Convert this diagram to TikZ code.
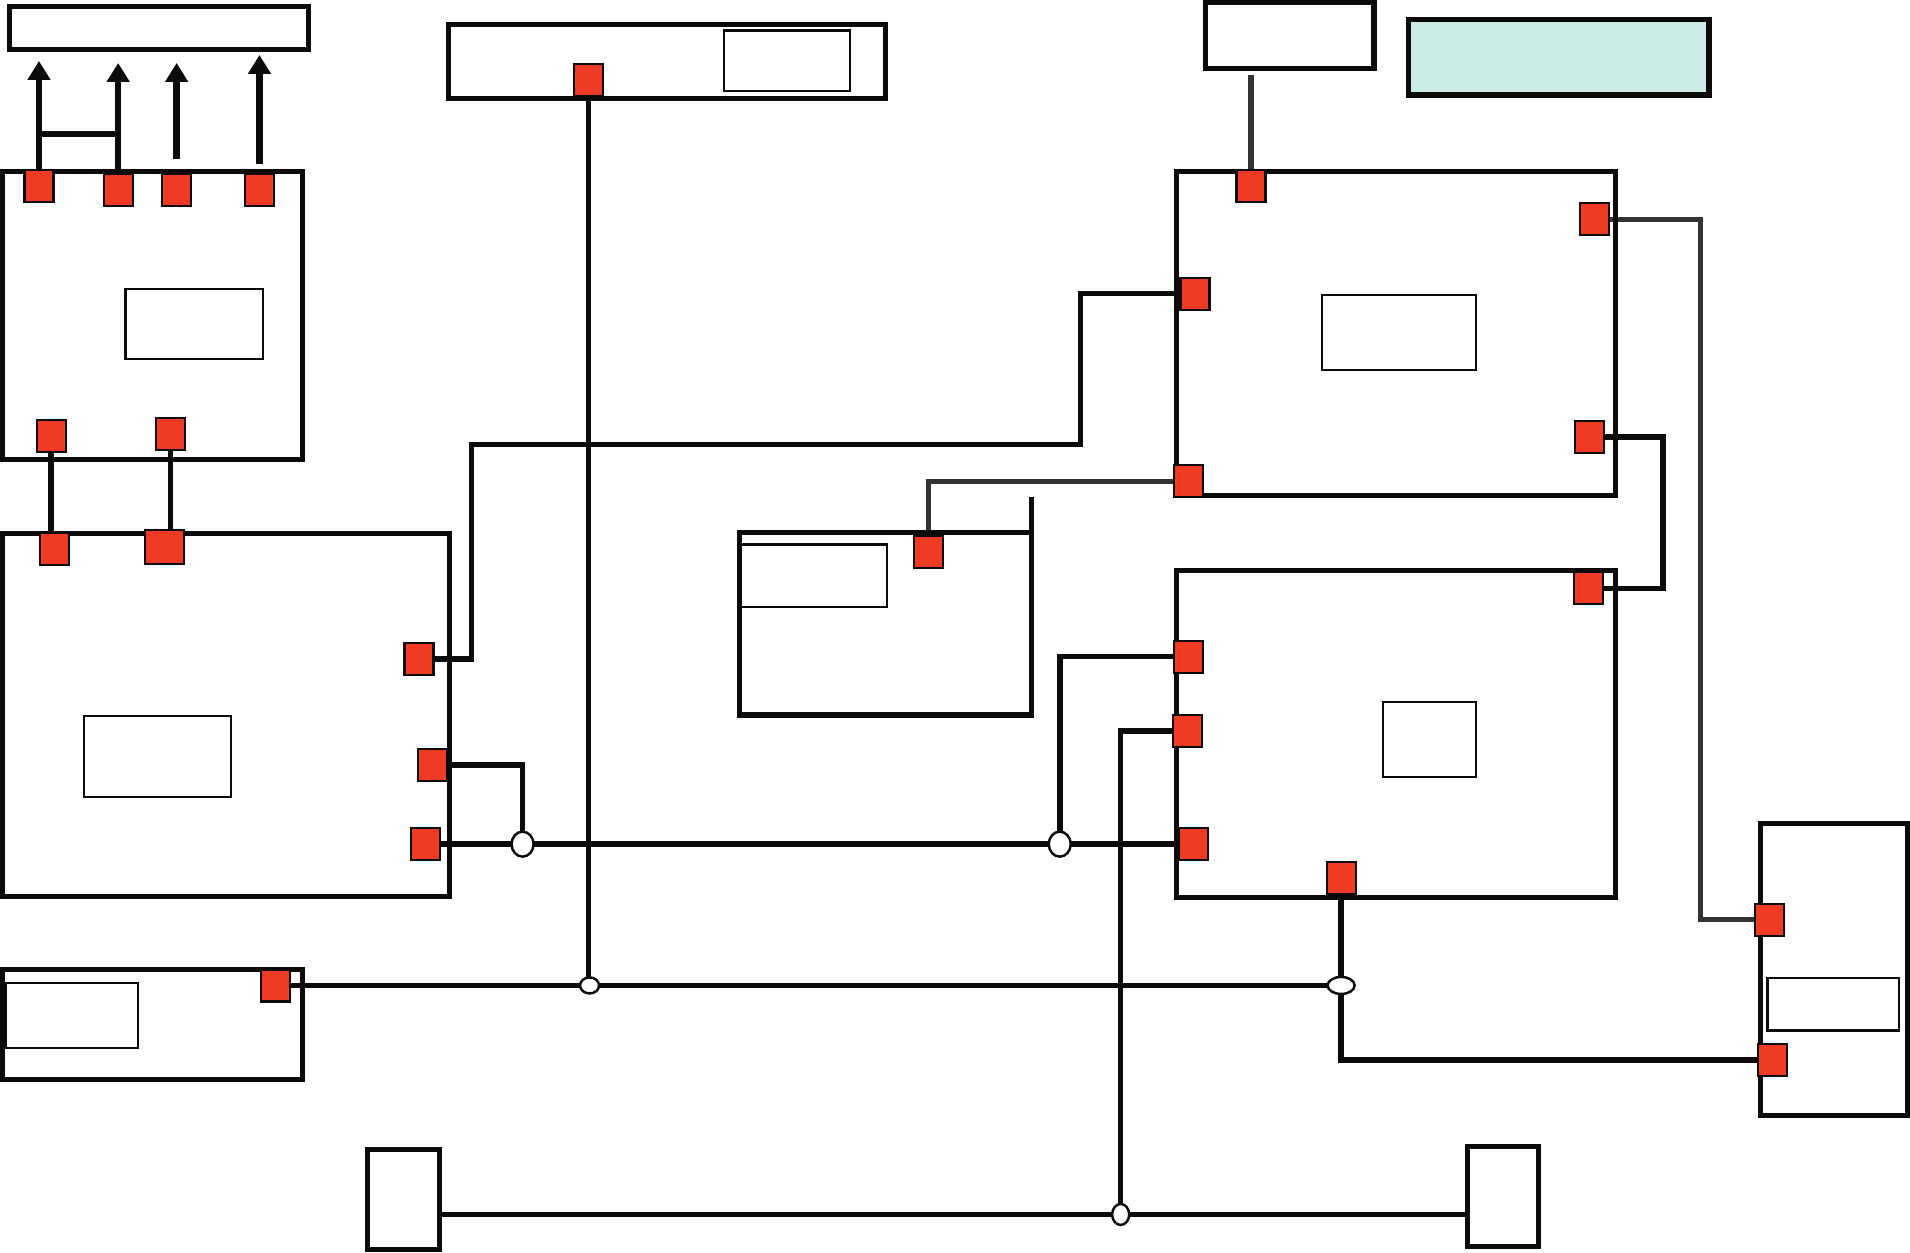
\documentclass[tikz,border=0pt]{standalone}
\usepackage{tikz}
\usetikzlibrary{arrows.meta,positioning,shapes.geometric,calc,backgrounds,fit}
\definecolor{portred}{HTML}{EF3B24}
\definecolor{ink}{HTML}{0C0B09}
\definecolor{graphite}{HTML}{333333}
\definecolor{mint}{HTML}{CBECE6}

\begin{document}
\begin{tikzpicture}[x=0.01218cm,y=-0.01218cm,
   chassis/.style={draw=ink,line width=1.45pt,inner sep=0pt,outer sep=0pt},
   screen/.style={draw=ink,line width=0.6pt,inner sep=0pt,outer sep=0pt},
   port/.style={draw=ink,fill=portred,line width=0.6pt,minimum width=2.9mm,minimum height=3.2mm,inner sep=0pt,outer sep=0pt},
   joint/.style={ellipse,draw=ink,fill=white,line width=0.7pt,inner sep=0pt,outer sep=0pt},
   wire/.style={draw=ink,line width=1.6pt},
   gwire/.style={draw=graphite,line width=1.5pt},
   lift/.style={draw=ink,line width=1.8pt,-{Triangle[length=1.9mm,width=2.2mm]}}]
  \useasboundingbox (0,0) rectangle (1568,1028);
  % units
  \node[chassis,fit={(8,5)(253,41)}] (outbar) {};
  \node[chassis,fit={(2,141)(248,377)}] (ctrl) {};
  \node[chassis,fit={(2,438)(369,736)}] (main) {};
  \node[chassis,fit={(2,796)(248,886)}] (aux) {};
  \node[chassis,fit={(368,20)(727,81)}] (bus) {};
  \node[chassis,fit={(607,437)(847,587)}] (mid) {};
  \node[chassis,fit={(990,2)(1128,56)}] (tag) {};
  \node[chassis,fill=mint,fit={(1156,16)(1403,78)}] (legend) {};
  \node[chassis,fit={(966,141)(1326,407)}] (upper) {};
  \node[chassis,fit={(966,468)(1326,737)}] (lower) {};
  \node[chassis,fit={(1445,676)(1566,916)}] (side) {};
  \node[chassis,fit={(302,944)(361,1026)}] (endl) {};
  \node[chassis,fit={(1205,941)(1263,1023)}] (endr) {};
  % inner panels
  \node[screen,fit={(103,237)(216,295)}] (ctrlscr) {};
  \node[screen,fit={(69,588)(190,654)}] (mainscr) {};
  \node[screen,fit={(5,807)(113,860)}] (auxscr) {};
  \node[screen,fit={(594,25)(698,75)}] (busscr) {};
  \node[screen,fit={(608,447)(728,498)}] (midscr) {};
  \node[screen,fit={(1085,242)(1212,304)}] (upperscr) {};
  \node[screen,fit={(1135,576)(1212,638)}] (lowerscr) {};
  \node[screen,fit={(1451,803)(1559,846)}] (sidescr) {};
  % ports
  \node[port] (c1) at (32,153) {};
  \node[port] (c2) at (97,156) {};
  \node[port] (c3) at (145,156) {};
  \node[port] (c4) at (213,156) {};
  \node[port] (c5) at (42,358) {};
  \node[port] (c6) at (140,356) {};
  \node[port] (m1) at (45,451) {};
  \node[port,minimum width=3.9mm,minimum height=3.4mm] (m2) at (135,449) {};
  \node[port] (m3) at (344,541) {};
  \node[port] (m4) at (355,628) {};
  \node[port] (m5) at (349,693) {};
  \node[port] (a1) at (226,809) {};
  \node[port] (t1) at (483,66) {};
  \node[port] (d1) at (762,453) {};
  \node[port] (u1) at (1027,153) {};
  \node[port] (u2) at (981,241) {};
  \node[port] (u3) at (976,395) {};
  \node[port] (u4) at (1309,180) {};
  \node[port] (u5) at (1305,359) {};
  \node[port] (l1) at (1304,483) {};
  \node[port] (l2) at (976,539) {};
  \node[port] (l3) at (975,600) {};
  \node[port] (l4) at (980,693) {};
  \node[port] (l5) at (1101,721) {};
  \node[port] (s1) at (1453,755) {};
  \node[port] (s2) at (1455,870) {};
  % joints
  \node[joint,minimum width=2.2mm,minimum height=2.5mm] (j1) at (429,693) {};
  \node[joint,minimum width=2.2mm,minimum height=2.5mm] (j2) at (870,693) {};
  \node[joint,minimum width=1.9mm,minimum height=1.6mm] (j3) at (484,809) {};
  \node[joint,minimum width=2.7mm,minimum height=1.7mm] (j4) at (1101,809) {};
  \node[joint,minimum width=1.7mm,minimum height=2.1mm] (j5) at (920,997) {};
  \begin{scope}[on background layer]
    \draw[lift,shorten >=1.1mm] (c1.north) -- (c1.north |- outbar.south);
    \draw[lift,shorten >=1.3mm,shorten <=0.5mm] (c2.north) -- (c2.north |- outbar.south);
    \draw[lift,shorten >=1.3mm,shorten <=1.5mm] (c3.north) -- (c3.north |- outbar.south);
    \draw[lift,shorten >=0.5mm,shorten <=1mm] (c4.north) -- (c4.north |- outbar.south);
    \coordinate (hbar) at (0,110);
    \draw[wire] (c1 |- hbar) -- (c2 |- hbar);
    \draw[wire] (c5.south) -- (c5.south |- m1.north);
    \draw[wire] (c6.south) -- (c6.south |- m2.north);
    \draw[wire] (m3.east) -| (387,365) -| (887,241) -- (u2.west);
    \draw[wire] (m4.east) -| (j1);
    \draw[wire] (m5.east) -- (j1) -- (j2) -- (l4.west);
    \draw[wire] (j2) |- (l2.west);
    \draw[wire] (l3.west) -| (j5);
    \draw[wire] (endl.east |- j5) -- (j5) -- (endr.west |- j5);
    \draw[wire] (t1.south) -- (t1.south |- j3);
    \draw[wire] (a1.east) -- (j3) -- (j4);
    \draw[wire] (l5.south) -- (j4) |- (s2.west);
    \draw[wire] (u5.east) -| (1365,483) -- (l1.east);
    \draw[gwire] (d1.north) |- (u3.west);
    \draw[gwire,shorten <=0.7mm] (tag.south -| u1) -- (u1.north);
    \draw[gwire] (u4.east) -| (1396,755) -- (s1.west);
    \draw[chassis] (mid.north east) -- ++(0,-29);
  \end{scope}
\end{tikzpicture}
\end{document}
